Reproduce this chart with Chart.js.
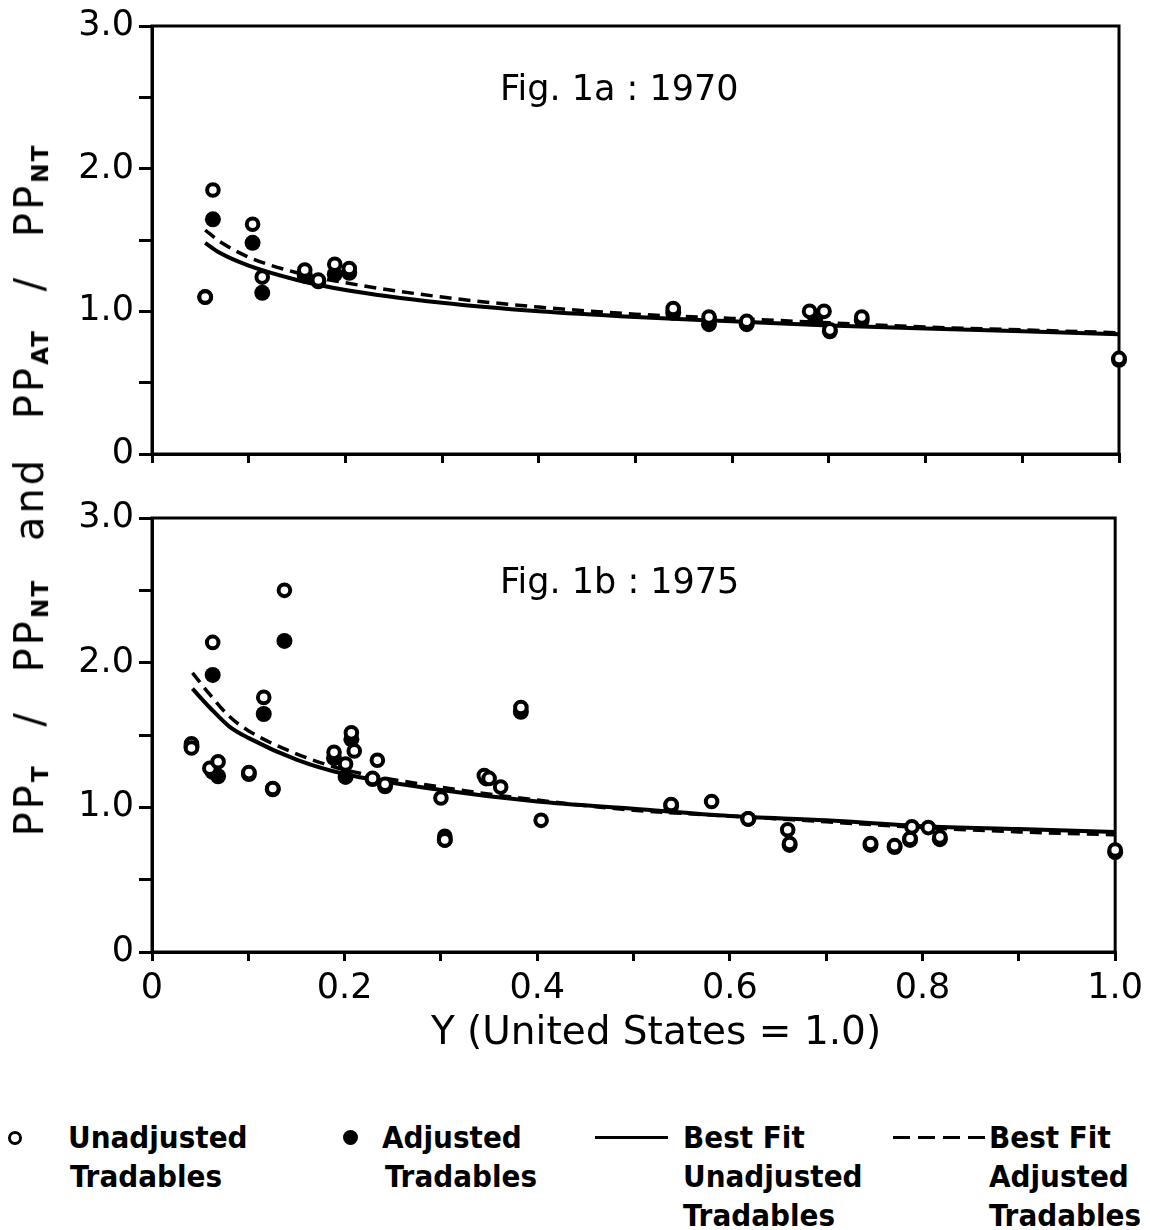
<!DOCTYPE html>
<html><head><meta charset="utf-8">
<script src="https://cdn.jsdelivr.net/npm/chart.js@4.4.1/dist/chart.umd.min.js"></script>
<style>
html,body{margin:0;padding:0;background:#fff;}
#wrap{position:relative;width:1150px;height:1230px;overflow:hidden;background:#fff;}
canvas{position:absolute;left:0;}
#c1{top:0;}
#c2{top:480px;}
.fig{position:absolute;font-family:"DejaVu Sans";font-size:35px;color:#000;white-space:nowrap;line-height:1;}
#ytitle{position:absolute;left:30px;top:490px;transform:translate(-50%,-50%) rotate(-90deg);font-family:"DejaVu Sans";font-size:40px;white-space:nowrap;letter-spacing:3px;word-spacing:22px;line-height:1;color:#000;}
#ytitle sub{font-size:0.58em;font-weight:bold;vertical-align:-0.2em;letter-spacing:2px;}
#xtitle{position:absolute;left:656px;top:1030px;transform:translate(-50%,-50%);font-family:"DejaVu Sans";font-size:39px;white-space:nowrap;line-height:1;color:#000;}
.leg{position:absolute;font-family:"DejaVu Sans Condensed","DejaVu Sans";font-weight:bold;font-size:31px;line-height:39px;color:#000;white-space:nowrap;}
.mk{position:absolute;box-sizing:border-box;border-radius:50%;}
</style></head>
<body><div id="wrap">
<canvas id="c1" width="1150" height="480"></canvas>
<canvas id="c2" width="1150" height="600"></canvas>
<div id="ytitle">PP<sub>T</sub> / PP<sub>NT</sub> and PP<sub>AT</sub> / PP<sub>NT</sub></div>
<div id="xtitle">Y (United States = 1.0)</div>
<div class="fig" style="left:500px;top:71px;">Fig. 1a : 1970</div>
<div class="fig" style="left:500px;top:564px;">Fig. 1b : 1975</div>

<div class="mk" style="left:8px;top:1131px;width:14px;height:14px;border:3px solid #000;background:#fff;"></div>
<div class="leg" style="left:68px;top:1118px;">Unadjusted<br><span style="padding-left:2px">Tradables</span></div>
<div class="mk" style="left:343px;top:1130px;width:15px;height:15px;background:#000;"></div>
<div class="leg" style="left:382px;top:1118px;">Adjusted<br><span style="padding-left:3px">Tradables</span></div>
<div style="position:absolute;left:595px;top:1136px;width:73px;height:3px;background:#000;"></div>
<div class="leg" style="left:683px;top:1118px;">Best Fit<br>Unadjusted<br>Tradables</div>
<div style="position:absolute;left:893px;top:1136px;width:95px;height:3px;background:repeating-linear-gradient(to right,#000 0 17px,transparent 17px 25px);"></div>
<div class="leg" style="left:989px;top:1118px;">Best Fit<br>Adjusted<br>Tradables</div>
</div>
<script>
// ---------- data ----------
const xTickValues = [0, 0.2, 0.4, 0.6, 0.8, 1.0];
const xTickLabels = ['0', '0.2', '0.4', '0.6', '0.8', '1.0'];
const yTickValues = [0, 1, 2, 3];
const yTickLabels = ['0', '1.0', '2.0', '3.0'];

// Fig 1a : 1970
const unadj1970X = [0.055, 0.063, 0.104, 0.114, 0.158, 0.172, 0.189, 0.204, 0.539, 0.576, 0.615, 0.680, 0.695, 0.701, 0.734, 1.000];
const unadj1970Y = [1.10, 1.85, 1.61, 1.24, 1.29, 1.22, 1.33, 1.30, 1.02, 0.96, 0.93, 1.00, 1.00, 0.87, 0.96, 0.67];
const adj1970X = [0.055, 0.063, 0.104, 0.114, 0.158, 0.172, 0.189, 0.204, 0.539, 0.576, 0.615, 0.686, 0.701, 0.734, 1.000];
const adj1970Y = [1.10, 1.645, 1.48, 1.13, 1.25, 1.21, 1.26, 1.27, 0.99, 0.91, 0.91, 0.95, 0.86, 0.94, 0.66];
const fit1970X = [0.055, 0.07, 0.10, 0.15, 0.20, 0.30, 0.40, 0.50, 0.60, 0.70, 0.80, 0.90, 1.00];
const fitUnadj1970Y = [1.48, 1.41, 1.32, 1.22, 1.15, 1.06, 1.00, 0.96, 0.93, 0.90, 0.88, 0.86, 0.84];
const fitAdj1970Y = [1.57, 1.49, 1.38, 1.27, 1.20, 1.10, 1.03, 0.98, 0.95, 0.92, 0.89, 0.87, 0.85];

// Fig 1b : 1975
const unadj1975X = [0.041, 0.041, 0.063, 0.1375, 0.116, 0.060, 0.0686, 0.1006, 0.1254, 0.207, 0.210, 0.189, 0.201, 0.234, 0.229, 0.242, 0.300, 0.304, 0.304, 0.345, 0.350, 0.362, 0.383, 0.404, 0.539, 0.581, 0.619, 0.660, 0.662, 0.746, 0.771, 0.787, 0.789, 0.806, 0.818, 1.000];
const unadj1975Y = [1.44, 1.41, 2.14, 2.50, 1.76, 1.27, 1.315, 1.24, 1.13, 1.515, 1.39, 1.38, 1.30, 1.325, 1.20, 1.16, 1.065, 0.80, 0.775, 1.22, 1.20, 1.14, 1.69, 0.91, 1.02, 1.04, 0.92, 0.845, 0.75, 0.75, 0.735, 0.785, 0.865, 0.86, 0.795, 0.705];
const adj1975X = [0.041, 0.063, 0.063, 0.0686, 0.1006, 0.116, 0.1254, 0.1375, 0.189, 0.201, 0.207, 0.229, 0.242, 0.304, 0.347, 0.383, 0.539, 0.619, 0.662, 0.746, 0.771, 0.787, 0.818, 1.000];
const adj1975Y = [1.42, 1.915, 1.245, 1.215, 1.23, 1.645, 1.125, 2.15, 1.34, 1.21, 1.47, 1.195, 1.145, 0.775, 1.20, 1.66, 1.01, 0.92, 0.74, 0.74, 0.725, 0.775, 0.78, 0.69];
const fit1975X = [0.042, 0.06, 0.08, 0.10, 0.15, 0.20, 0.30, 0.40, 0.50, 0.60, 0.70, 0.80, 0.90, 1.00];
const fitUnadj1975Y = [1.82, 1.69, 1.56, 1.48, 1.33, 1.23, 1.12, 1.04, 0.99, 0.94, 0.91, 0.87, 0.85, 0.83];
const fitAdj1975Y = [1.93, 1.78, 1.63, 1.53, 1.37, 1.26, 1.14, 1.05, 0.98, 0.94, 0.90, 0.86, 0.83, 0.81];

// ---------- helpers ----------
const zip = (xs, ys) => xs.map((x, i) => ({x, y: ys[i]}));
const labelFor = (vals, labels) => v => {
  const i = vals.findIndex(t => Math.abs(t - v) < 1e-6);
  return i >= 0 ? labels[i] : '';
};
const tickFont = {family: 'DejaVu Sans', size: 35};

const framePlugin = {
  id: 'frame',
  beforeDatasetsDraw(chart) {
    const {ctx, chartArea: a} = chart;
    ctx.save();
    ctx.strokeStyle = '#000';
    ctx.lineWidth = 3;
    ctx.strokeRect(a.left, a.top, a.right - a.left, a.bottom - a.top);
    ctx.restore();
  }
};

function datasets(uX, uY, aX, aY, fX, fuY, faY) {
  return [
    {label: 'Unadjusted Tradables', data: zip(uX, uY), order: 0, pointRadius: 5.8, pointBorderWidth: 4,
     pointBackgroundColor: '#fff', pointBorderColor: '#000', showLine: false, clip: false},
    {label: 'Adjusted Tradables', data: zip(aX, aY), order: 1, pointRadius: 8, pointBorderWidth: 0,
     pointBackgroundColor: '#000', pointBorderColor: '#000', showLine: false, clip: false},
    {label: 'Best Fit Unadjusted Tradables', data: zip(fX, fuY), order: 2, showLine: true, pointRadius: 0,
     borderColor: '#000', borderWidth: 4, tension: 0.4, cubicInterpolationMode: 'monotone', fill: false},
    {label: 'Best Fit Adjusted Tradables', data: zip(fX, faY), order: 3, showLine: true, pointRadius: 0,
     borderColor: '#000', borderWidth: 3.5, borderDash: [12, 7], tension: 0.4, cubicInterpolationMode: 'monotone', fill: false}
  ];
}

function makeChart(id, ds, opts) {
  return new Chart(document.getElementById(id), {
    type: 'scatter',
    data: {datasets: ds},
    plugins: [framePlugin],
    options: {
      responsive: false, animation: false, events: [],
      layout: {padding: {left: 0, top: opts.padTop, right: 31, bottom: 0}},
      plugins: {legend: {display: false}, tooltip: {enabled: false}},
      scales: {
        x: {
          type: 'linear', min: 0, max: 1,
          ticks: {stepSize: 0.1, autoSkip: false, maxRotation: 0, padding: opts.xPad, color: '#000', font: tickFont,
                  callback: opts.xLabels ? labelFor(xTickValues, xTickLabels) : () => ''},
          grid: {drawOnChartArea: false, drawTicks: true, tickLength: 9, color: '#000', lineWidth: 3},
          border: {display: true, color: '#000', width: 3},
          title: {display: false},
          afterFit: s => { s.height = opts.xHeight; }
        },
        y: {
          type: 'linear', min: 0, max: 3,
          ticks: {stepSize: 0.5, autoSkip: false, padding: 5, color: '#000', font: tickFont,
                  callback: labelFor(yTickValues, yTickLabels)},
          grid: {drawOnChartArea: false, drawTicks: true, tickLength: 13, color: '#000', lineWidth: 3},
          border: {display: true, color: '#000', width: 3},
          afterFit: s => { s.width = 152; }
        }
      }
    }
  });
}

makeChart('c1', datasets(unadj1970X, unadj1970Y, adj1970X, adj1970Y, fit1970X, fitUnadj1970Y, fitAdj1970Y),
  {padTop: 23, xHeight: 23, xLabels: false, xPad: 0});
makeChart('c2', datasets(unadj1975X, unadj1975Y, adj1975X, adj1975Y, fit1975X, fitUnadj1975Y, fitAdj1975Y),
  {padTop: 38, xHeight: 128, xLabels: true, xPad: 7});
</script>
</body></html>
